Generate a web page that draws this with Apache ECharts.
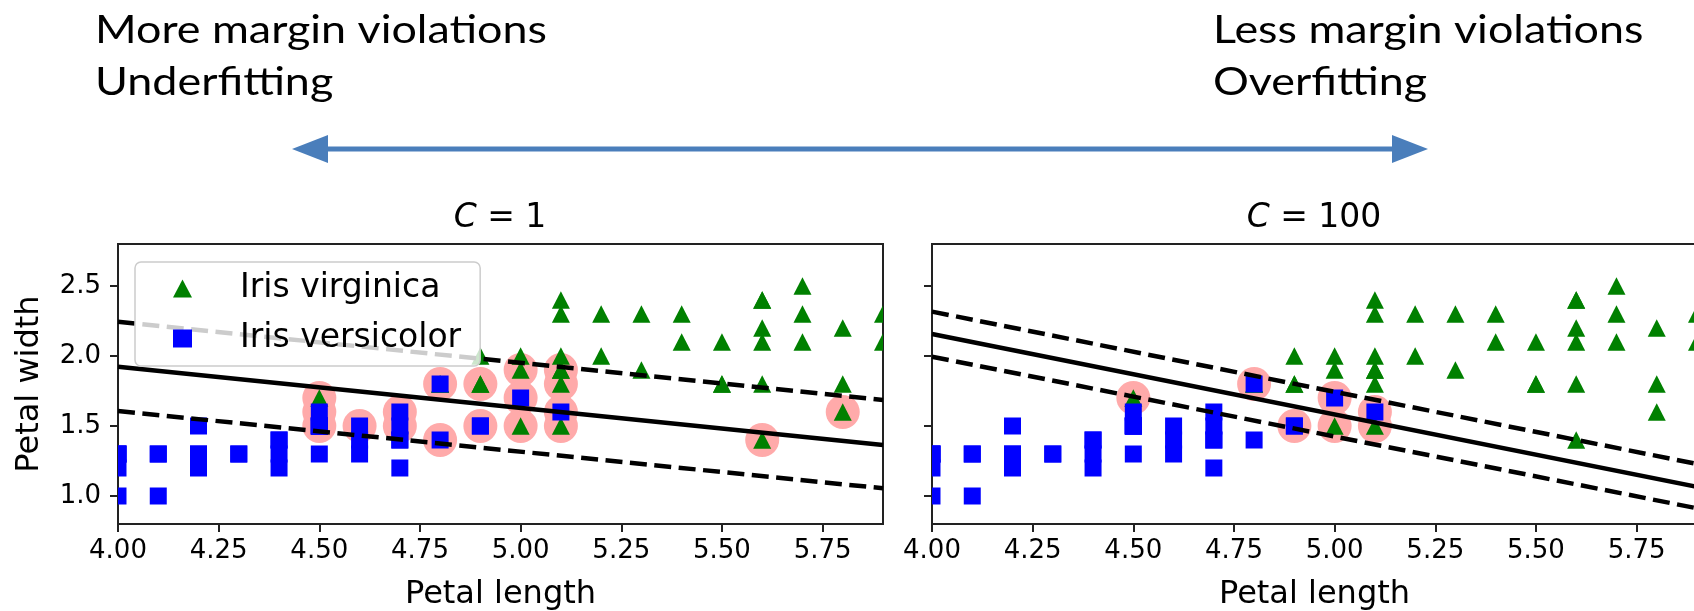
<!DOCTYPE html>
<html><head><meta charset="utf-8">
<script src="https://cdn.jsdelivr.net/npm/echarts@6/dist/echarts.min.js"></script>
<style>html,body{margin:0;padding:0;background:#fff}#c{width:1694px;height:611px}</style>
</head><body><div id="c"></div>
<script>
// ---- data (petal length, petal width) ----
const virginica = [[5.1,1.9],[5.9,2.1],[5.6,1.8],[5.8,2.2],[4.5,1.7],[5.8,1.8],[5.1,2.0],[5.3,1.9],[5.5,2.1],[5.0,2.0],[5.1,2.4],[5.3,2.3],[5.5,1.8],[5.0,1.5],[5.7,2.3],[4.9,2.0],[4.9,1.8],[5.7,2.1],[4.8,1.8],[4.9,1.8],[5.6,2.1],[5.8,1.6],[5.6,2.2],[5.1,1.5],[5.6,1.4],[5.6,2.4],[5.5,1.8],[4.8,1.8],[5.4,2.1],[5.6,2.4],[5.1,2.3],[5.1,1.9],[5.9,2.3],[5.7,2.5],[5.2,2.3],[5.0,1.9],[5.2,2.0],[5.4,2.3],[5.1,1.8]];
const versicolor = [[4.7,1.4],[4.5,1.5],[4.9,1.5],[4.0,1.3],[4.6,1.5],[4.5,1.3],[4.7,1.6],[4.6,1.3],[4.2,1.5],[4.0,1.0],[4.7,1.4],[4.4,1.4],[4.5,1.5],[4.1,1.0],[4.5,1.5],[4.8,1.8],[4.0,1.3],[4.9,1.5],[4.7,1.2],[4.3,1.3],[4.4,1.4],[4.8,1.4],[5.0,1.7],[4.5,1.5],[5.1,1.6],[4.5,1.5],[4.5,1.6],[4.7,1.5],[4.4,1.3],[4.1,1.3],[4.0,1.3],[4.4,1.2],[4.6,1.4],[4.0,1.2],[4.2,1.3],[4.2,1.2],[4.2,1.3],[4.3,1.3],[4.1,1.3]];
const supportVectorsC1 = [[4.5,1.7],[4.5,1.6],[4.5,1.5],[4.6,1.5],[4.7,1.6],[4.7,1.5],[4.8,1.8],[4.8,1.4],[4.9,1.8],[4.9,1.5],[5.0,1.9],[5.0,1.7],[5.0,1.5],[5.1,1.9],[5.1,1.8],[5.1,1.6],[5.1,1.5],[5.6,1.4],[5.8,1.6]];
const supportVectorsC100 = [[4.5,1.7],[4.8,1.8],[4.9,1.5],[5.0,1.7],[5.0,1.5],[5.1,1.6],[5.1,1.5]];
const decisionC1 = [[4.0,1.924],[5.9,1.364]];
const marginUpC1 = [[4.0,2.245],[5.9,1.686]];
const marginLowC1 = [[4.0,1.607],[5.9,1.055]];
const decisionC100 = [[4.0,2.157],[5.9,1.065]];
const marginUpC100 = [[4.0,2.317],[5.9,1.229]];
const marginLowC100 = [[4.0,1.995],[5.9,0.912]];
const xTicks = [4.0,4.25,4.5,4.75,5.0,5.25,5.5,5.75];
const yTicks = [1.0,1.5,2.0,2.5];
const panelTitles = ['C', 'C'];
const panelValues = ['1', '100'];
const headerLeft = ['More margin violations', 'Underfitting'];
const headerRight = ['Less margin violations', 'Overfitting'];
const legendNames = ['Iris virginica', 'Iris versicolor'];

// ---- styling ----
const FONT = 'DejaVu Sans';
const SPINE = '#222';
const chart = echarts.init(document.getElementById('c'));

function gridCfg(left) {
  return {left: left, top: 244, width: 765, height: 280, show: true,
    borderColor: SPINE, borderWidth: 2, backgroundColor: 'transparent',
    containLabel: false, outerBoundsMode: 'none'};
}
function xAxisCfg(gi) {
  return {type: 'value', gridIndex: gi, min: 4.0, max: 5.9,
    name: 'Petal length', nameLocation: 'middle', nameGap: 55,
    nameTextStyle: {fontFamily: FONT, fontSize: 32, color: '#000'},
    axisLine: {show: true, lineStyle: {color: SPINE, width: 2}},
    splitLine: {show: false},
    axisTick: {show: true, length: 8, lineStyle: {color: SPINE, width: 2}, customValues: xTicks},
    axisLabel: {customValues: xTicks, formatter: v => v.toFixed(2), fontFamily: FONT, fontSize: 26, color: '#000', margin: 14}
  };
}
function yAxisCfg(gi, showLabels) {
  return {type: 'value', gridIndex: gi, min: 0.8, max: 2.8,
    name: showLabels ? 'Petal width' : '', nameLocation: 'middle', nameGap: 72,
    nameTextStyle: {fontFamily: FONT, fontSize: 32, color: '#000'},
    axisLine: {show: true, lineStyle: {color: SPINE, width: 2}},
    splitLine: {show: false},
    axisTick: {show: true, length: 8, lineStyle: {color: SPINE, width: 2}, customValues: yTicks},
    axisLabel: {show: showLabels, customValues: yTicks, formatter: v => v.toFixed(1), fontFamily: FONT, fontSize: 26, color: '#000', margin: 17}
  };
}
function marker(name, data, gi, kind, color) {
  return {
    type: 'custom', name: name, xAxisIndex: gi, yAxisIndex: gi, data: data, clip: true, silent: true,
    itemStyle: {color: color}, encode: {x: 0, y: 1},
    renderItem: function (params, api) {
      const p = api.coord([api.value(0), api.value(1)]);
      if (kind === 'circle') return {type: 'circle', shape: {cx: p[0], cy: p[1], r: 17}, style: {fill: color}};
      if (kind === 'square') return {type: 'rect', shape: {x: p[0] - 8.5, y: p[1] - 8.5, width: 17, height: 17}, style: {fill: color}};
      return {type: 'polygon', shape: {points: [[p[0], p[1] - 8.7], [p[0] - 9, p[1] + 8.7], [p[0] + 9, p[1] + 8.7]]}, style: {fill: color}};
    }
  };
}
function line(data, gi, dashed) {
  return {type: 'line', xAxisIndex: gi, yAxisIndex: gi, data: data, symbol: 'none', silent: true, clip: true,
    lineStyle: {color: '#000', width: 4.5, type: dashed ? [17, 7.5] : 'solid', cap: 'butt'}};
}

const series = [];
[[supportVectorsC1, decisionC1, marginUpC1, marginLowC1], [supportVectorsC100, decisionC100, marginUpC100, marginLowC100]].forEach((p, gi) => {
  series.push(marker('sv' + gi, p[0], gi, 'circle', '#FFAAAA'));
  series.push(marker(legendNames[0], virginica, gi, 'triangle', '#008000'));
  series.push(marker(legendNames[1], versicolor, gi, 'square', '#0000FF'));
  series.push(line(p[1], gi, false));
  series.push(line(p[2], gi, true));
  series.push(line(p[3], gi, true));
});

const headerStyle = {fontFamily: 'Lato', fontSize: 39, fill: '#000', align: 'left', verticalAlign: 'middle'};
const graphic = [];
headerLeft.forEach((t, i) => graphic.push({type: 'text', x: 95, y: 30 + 52 * i, scaleX: 1.15, style: Object.assign({text: t}, headerStyle)}));
headerRight.forEach((t, i) => graphic.push({type: 'text', x: 1213, y: 30 + 52 * i, scaleX: 1.15, style: Object.assign({text: t}, headerStyle)}));
const ARROW = '#4A7EBB';
graphic.push({type: 'line', shape: {x1: 326, y1: 149, x2: 1394, y2: 149}, style: {stroke: ARROW, lineWidth: 5}});
graphic.push({type: 'polygon', shape: {points: [[292, 149], [328, 135], [328, 163]]}, style: {fill: ARROW}});
graphic.push({type: 'polygon', shape: {points: [[1428, 149], [1392, 135], [1392, 163]]}, style: {fill: ARROW}});
[500, 1314].forEach((cx, i) => graphic.push({type: 'text', x: cx, y: 218,
  style: {text: '{it|' + panelTitles[i] + '} = ' + panelValues[i], fontFamily: FONT, fontSize: 33, fill: '#000', align: 'center', verticalAlign: 'middle',
    rich: {it: {fontFamily: FONT, fontStyle: 'italic', fontSize: 33, fill: '#000'}}}}));

chart.setOption({
  animation: false,
  backgroundColor: '#fff',
  grid: [gridCfg(118), gridCfg(932)],
  xAxis: [xAxisCfg(0), xAxisCfg(1)],
  yAxis: [yAxisCfg(0, true), yAxisCfg(1, false)],
  legend: {
    left: 135, top: 262, orient: 'vertical', selectedMode: false,
    data: [{name: legendNames[0], icon: 'triangle', itemStyle: {color: '#008000'}},
           {name: legendNames[1], icon: 'rect', itemStyle: {color: '#0000FF'}}],
    itemWidth: 19, itemHeight: 18, itemGap: 17,
    padding: [10, 19, 11, 38],
    backgroundColor: 'rgba(255,255,255,0.8)', borderColor: '#cccccc', borderWidth: 1.5, borderRadius: 6,
    textStyle: {fontFamily: FONT, fontSize: 33, color: '#000', padding: [0, 0, 0, 43]}
  },
  graphic: graphic,
  series: series
});
</script></body></html>
